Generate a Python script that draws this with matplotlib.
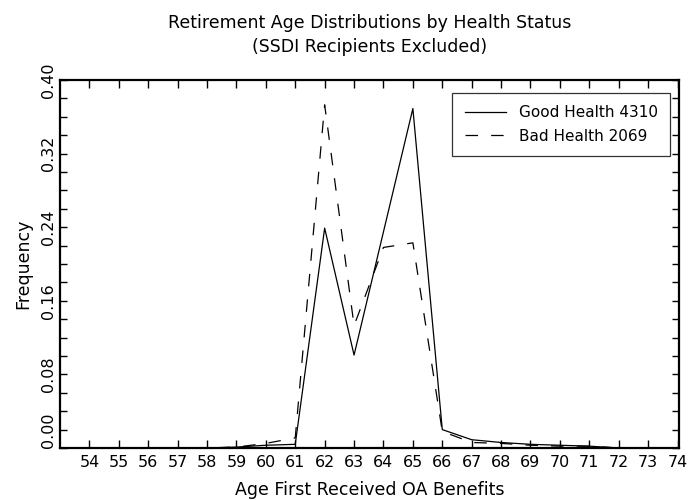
import matplotlib
matplotlib.use("Agg")
import matplotlib.pyplot as plt
import numpy as np

ages = [54, 55, 56, 57, 58, 59, 60, 61, 62, 63, 64, 65, 66, 67, 68, 69, 70, 71, 72, 73, 74]
good_health = [0, 0, 0, 0, 0, 0.001, 0.003, 0.004, 0.239, 0.101, 0.235, 0.369, 0.020,
               0.009, 0.006, 0.004, 0.003, 0.002, 0, 0, 0]
bad_health = [0, 0, 0, 0, 0, 0.001, 0.005, 0.011, 0.373, 0.133, 0.218, 0.223, 0.018,
              0.006, 0.005, 0.003, 0.002, 0.002, 0, 0, 0]
labels = ["Good Health 4310", "Bad Health 2069"]
yticks = [0.00, 0.08, 0.16, 0.24, 0.32, 0.40]

plt.rcParams['font.family'] = ['DejaVu Sans']
fig = plt.figure(figsize=(6.88, 5.0), dpi=100)
ax = fig.add_axes([60/688, 52/500, 619/688, 368/500])

ax.plot(ages, good_health, color='black', lw=0.9, label=labels[0])
ax.plot(ages, bad_health, color='black', lw=0.9, linestyle=(0, (10, 10.5)), label=labels[1])

ax.set_xlim(53, 74.05)
ax.set_ylim(0, 0.40)
ax.set_xticks(ages)
ax.set_xticklabels([str(a) for a in ages], fontsize=11.5)
ax.set_yticks(yticks)
ax.set_yticks(np.arange(0, 0.401, 0.02), minor=True)
ax.set_yticklabels([f"{v:.2f}" for v in yticks], fontsize=11.5, rotation=90, va='center')
ax.get_yticklabels()[0].set_va('bottom')

ax.tick_params(axis='x', which='both', direction='in', top=True, bottom=True, length=6, width=1, pad=5)
ax.tick_params(axis='y', which='both', direction='in', left=True, right=True, length=5, width=1, pad=3)
for s in ax.spines.values():
    s.set_linewidth(1.6)

ax.set_xlabel("Age First Received OA Benefits", fontsize=12.5, labelpad=8)
ax.set_ylabel("Frequency", fontsize=12.5, labelpad=6)
ax.set_title("Retirement Age Distributions by Health Status\n(SSDI Recipients Excluded)",
             fontsize=12.5, pad=20, linespacing=1.45)

leg = ax.legend(loc='upper right', bbox_to_anchor=(0.9855, 0.9647), borderaxespad=0,
                fontsize=11, frameon=True, fancybox=False, edgecolor='black',
                handlelength=2.7, borderpad=0.8, labelspacing=0.55, handletextpad=0.85)
leg.get_frame().set_linewidth(0.9)

fig.savefig("out.png", dpi=100)
